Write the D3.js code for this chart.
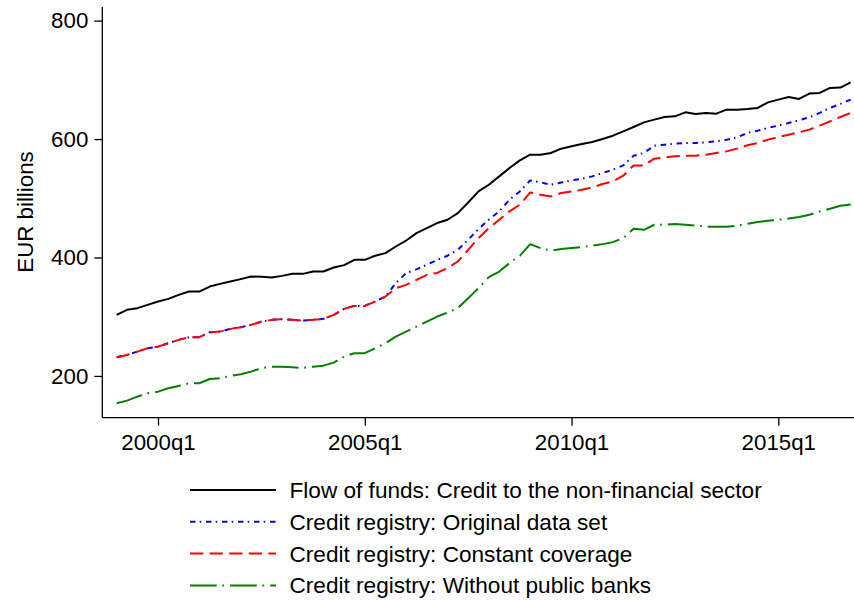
<!DOCTYPE html>
<html><head><meta charset="utf-8">
<script src="https://cdn.jsdelivr.net/npm/d3@7"></script>
<style>body{margin:0;background:#fff}svg{display:block}text{font-family:"Liberation Sans",Arial,sans-serif;fill:#000}</style>
</head><body><svg id="c" width="854" height="600"></svg>
<script>
// ---- data ----
const startYear = 1999; // first observation 1999q1, quarterly
const flowOfFunds = [303.1,311.6,314.5,320,325.6,330.2,336.9,342.5,342.5,351,355.5,359.4,363.5,367.9,367.4,366.2,369,372.4,372.4,376.3,376.3,383.1,387.1,396.1,396.1,402.9,407.4,418.6,428.7,441.2,449.7,458.2,463.7,475,493,511.6,522.9,537,551.1,564,573.6,573.6,576.5,583.8,587.7,591.7,595.1,600.1,605.7,613,620.4,628.2,632.8,637.3,638.4,645.1,642.4,644.1,642.9,649.7,649.7,650.9,652.6,662,666.6,671.1,667.8,676.8,677.9,686.4,686.9,695.9];
const originalData = [231.6,235.5,241.1,246.8,249.5,255.3,260.9,265.4,265.4,273.9,274.9,279.5,282.3,286.2,291.8,294.7,295.8,294.7,293.5,294.7,296.4,303.1,313.3,318.3,318.3,325.6,334.1,356.7,373.6,380,387.7,396,403,413,430,448,464,478,497.5,511.6,530.2,526.8,522.9,526.8,530.2,533,537,542.7,548.3,555.5,571.9,576.5,588.8,590.5,592.2,593.4,593.4,594.5,596.1,599,602.9,610.3,614.2,618.8,622.7,627.2,631.6,636.7,644.1,652.6,659.4,666.6];
const constantCoverage = [231.6,235.5,241.1,246.8,249.5,255.3,260.9,265.4,265.4,273.9,274.9,279.5,282.3,286.2,291.8,294.7,295.8,294.7,293.5,294.7,296.4,303.1,313.3,318.3,318.3,325.6,334.1,348.3,353.8,362.3,370.8,374,382,393.2,413,432.8,449.7,463.7,477.8,489.1,509.9,506,503.2,508.9,511.6,514.5,518.4,524.1,528.5,538.1,555.5,555.5,566.9,569.1,570.8,571.9,571.9,573.6,576.5,579.2,583.8,589.4,593.4,599,603.5,607.4,611.3,615.9,622.7,629.9,637.3,644.1];
const withoutPublic = [153.8,158.3,165,170.7,173.5,179.2,183.1,187.6,187.6,194.9,196.1,200,202.9,207.3,213,215.7,215.7,214.7,213.5,215.7,217.4,222.5,232.6,238.4,238.4,246.8,255.3,266.4,274.9,283.3,291.8,300.3,307,314.5,331.3,348.3,366.9,376.3,390.5,402.9,422.6,415.9,411.8,414.2,415.9,417.6,419.8,422.6,426,432.8,448.5,446.8,455.3,455.3,456.4,455.3,454.1,451.9,451.9,451.9,453.6,457,459.8,462,463.7,465.9,468.3,472.2,477.8,482.3,487.4,489.6];
const yTicks = [200,400,600,800];
const xTickYears = [2000,2005,2010,2015];
const xTickLabels = ["2000q1","2005q1","2010q1","2015q1"];
const seriesNames = ["Flow of funds: Credit to the non-financial sector","Credit registry: Original data set","Credit registry: Constant coverage","Credit registry: Without public banks"];
const yTitle = "EUR billions";

// ---- layout ----
const svg = d3.select("#c");
const L = 102.3, R = 854, T = 7, B = 417.7;
const x = d3.scaleLinear().domain([1998.653, 2016.83]).range([L, R]);
const y = d3.scaleLinear().domain([129.5, 823]).range([B, T]);
const tOf = i => startYear + i / 4;

const styles = [
  {data: flowOfFunds, color: "#000000", dash: null},
  {data: originalData, color: "#0000ff", dash: "5.5,4.2,1.5,4.8"},
  {data: constantCoverage, color: "#ff0000", dash: "13.3,6.3"},
  {data: withoutPublic, color: "#008000", dash: "26.7,5.7,1.7,6"}
];

// axes
const yAxis = d3.axisLeft(y).tickValues(yTicks).tickSize(8).tickPadding(6).tickFormat(d3.format("d"));
const gy = svg.append("g").attr("transform", `translate(${L},0)`).call(yAxis);
const xAxis = d3.axisBottom(x).tickValues(xTickYears).tickSize(8).tickPadding(8).tickFormat((d,i) => xTickLabels[i]);
const gx = svg.append("g").attr("transform", `translate(0,${B})`).call(xAxis);
[gy, gx].forEach(g => {
  g.select(".domain").attr("stroke", "#000").attr("stroke-width", 1.3);
  g.selectAll(".tick line").attr("stroke", "#000").attr("stroke-width", 1.3);
  g.selectAll(".tick text").attr("font-size", 22.3).attr("font-family", '"Liberation Sans",Arial,sans-serif').attr("fill", "#000");
});
gy.select(".domain").attr("d", `M0,${T}V${B}`);
gx.select(".domain").attr("d", `M${L},0H${R}`);

svg.append("text").attr("transform", `translate(33,212) rotate(-90)`)
  .attr("text-anchor", "middle").attr("font-size", 22.3).text(yTitle);

// lines
const line = d3.line().x((d,i) => x(tOf(i))).y(d => y(d));
styles.forEach(s => {
  svg.append("path").datum(s.data).attr("d", line)
    .attr("fill", "none").attr("stroke", s.color).attr("stroke-width", 2)
    .attr("stroke-linejoin", "round")
    .attr("stroke-dasharray", s.dash);
});

// legend
const lg = svg.append("g");
seriesNames.forEach((name, i) => {
  const yy = 490 + i * 31.8;
  lg.append("line").attr("x1", 190).attr("x2", 276).attr("y1", yy).attr("y2", yy)
    .attr("stroke", styles[i].color).attr("stroke-width", 2).attr("stroke-dasharray", styles[i].dash);
  lg.append("text").attr("x", 289.5).attr("y", yy).attr("dy", "0.35em").attr("font-size", 22.6).text(name);
});
</script></body></html>
